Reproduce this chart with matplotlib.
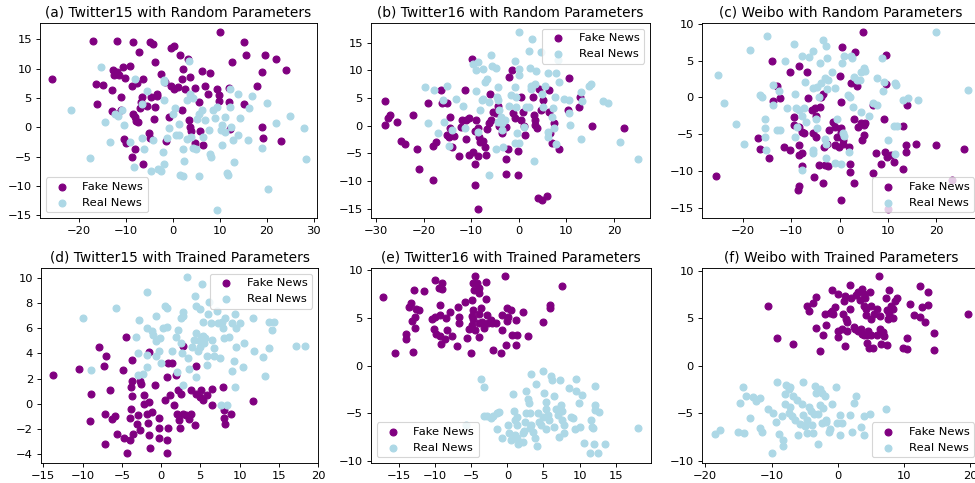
import matplotlib
matplotlib.use("Agg")
import matplotlib.pyplot as plt
import numpy as np

# t-SNE style 2-D embeddings as (x, y) pairs

# (a) Twitter15, random parameters
tw15_rand_fake = np.array([
    [-25.7, 8.3], [-17.1, 14.8], [-11.8, 14.8], [-8.5, 14.6], [-4.9, 14.6], [-4.2, 14.2],
    [-0.4, 13.6], [0.3, 13.9], [1.6, 12.4], [3.2, 11.7], [-7.3, 12.8], [10.0, 16.2],
    [15.1, 14.5], [15.6, 12.4], [12.6, 11.1], [19.6, 12.4], [21.9, 11.7], [24.2, 9.7],
    [18.9, 9.5], [17.9, 7.0], [-12.8, 9.8], [-12.0, 9.5], [-11.5, 9.0], [-12.5, 8.9],
    [-9.1, 10.5], [-10.7, 10.3], [-3.9, 11.1], [-16.4, 7.3], [-14.9, 7.2], [-16.2, 3.9],
    [-10.3, 8.4], [-13.0, 6.3], [-11.0, 5.2], [-8.8, 7.0], [-7.7, 7.6], [-6.3, 8.3],
    [-6.6, 5.2], [-6.7, 4.3], [-6.9, 3.3], [-5.5, 3.6], [-3.9, 3.4], [-4.6, 5.2],
    [-3.4, 5.6], [-3.4, 5.3], [-2.6, 9.1], [-1.7, 7.7], [-0.4, 7.1], [0.3, 6.6],
    [1.0, 6.8], [2.1, 9.9], [1.9, 8.2], [3.7, 8.5], [2.6, 6.6], [4.7, 6.7],
    [6.3, 9.6], [7.9, 9.2], [6.9, 7.0], [7.5, 5.6], [9.5, 6.6], [9.8, 5.5],
    [9.8, 4.4], [11.9, 6.7], [12.0, 4.3], [15.1, 4.0], [5.6, 4.3], [2.0, 3.0],
    [-11.0, 2.9], [-13.0, 2.7], [-12.0, 2.2], [-8.5, 2.2], [-8.0, 1.7], [-7.8, 1.1],
    [-7.4, 0.9], [-4.1, 1.4], [-0.8, 1.7], [3.5, 1.2], [3.7, 0.0], [3.9, -0.7],
    [5.8, -0.7], [-10.4, -2.0], [-9.9, -2.7], [-8.1, -3.7], [-8.8, -5.0], [-6.4, -6.2],
    [-5.1, -0.9], [-4.9, -1.8], [-1.5, -2.3], [4.8, -2.7], [6.4, -3.1], [19.0, 0.1],
    [19.2, -1.8], [23.0, -2.4], [12.1, -0.3],
])
tw15_rand_real = np.array([
    [-21.7, 3.0], [-15.4, 10.3], [-17.7, -5.2], [-14.4, 0.9], [-13.4, -2.5], [-12.3, 2.3],
    [-11.7, 1.9], [-10.8, 3.0], [-10.4, 0.3], [-9.2, -2.5], [-8.1, 8.3], [-8.3, -6.8],
    [-6.6, -1.8], [-6.5, 3.9], [-6.2, -3.7], [-5.6, 6.2], [-4.6, -7.4], [-4.3, -2.1],
    [-3.1, -7.2], [-2.5, -7.5], [-2.1, -4.2], [-1.8, -6.2], [-1.9, 8.0], [-1.8, 7.7],
    [-1.9, 4.7], [-0.9, -0.2], [-1.3, -1.9], [0.1, 2.3], [0.4, 3.2], [0.6, -1.4],
    [1.4, -1.3], [1.4, 0.5], [1.6, -8.1], [2.1, -8.4], [2.4, -5.8], [2.2, -3.8],
    [3.1, -2.0], [3.1, 4.7], [3.7, 5.6], [4.2, 5.0], [3.5, 11.3], [3.9, -1.7],
    [4.3, -3.5], [5.0, -3.7], [5.2, 1.4], [5.5, -8.4], [5.6, 2.3], [6.2, 2.9],
    [6.5, -1.7], [6.8, 1.2], [7.7, -0.4], [8.0, -4.5], [8.1, -5.1], [8.5, 3.0],
    [9.0, 1.5], [9.4, 3.4], [9.3, -14.1], [10.2, -0.5], [10.5, 0.4], [10.5, -3.0],
    [11.0, 1.7], [11.2, -0.8], [11.5, -7.9], [11.7, -8.1], [12.1, 6.6], [12.2, 3.5],
    [12.3, 0.1], [12.8, -2.2], [13.0, -6.0], [13.8, 5.6], [13.9, -1.3], [14.4, 1.6],
    [15.9, -2.2], [16.3, 3.2], [16.8, 5.4], [19.0, -3.5], [20.0, 4.2], [21.9, 0.8],
    [20.3, -10.5], [24.9, 1.9], [28.0, -0.2], [28.4, -5.4],
])

# (b) Twitter16, random parameters
tw16_rand_fake = np.array([
    [-28.2, 4.4], [-28.2, 0.1], [-27.5, 1.3], [-27.1, 1.9], [-25.6, 0.7], [-24.7, -2.7],
    [-24.0, -3.3], [-22.3, 1.9], [-21.4, -4.3], [-20.9, -7.8], [-19.1, 4.0], [-18.1, -3.7],
    [-18.0, -9.8], [-17.4, -3.0], [-16.3, 6.5], [-16.1, 4.0], [-15.1, 4.1], [-14.5, 1.6],
    [-14.5, -0.5], [-14.0, -3.9], [-15.2, -1.7], [-14.6, -2.0], [-13.6, -1.9], [-12.6, -5.5],
    [-12.1, -0.2], [-11.4, 6.5], [-11.2, -2.5], [-11.9, 1.1], [-11.1, 1.1], [-10.4, 1.4],
    [-9.8, 12.1], [-10.5, -5.4], [-9.7, -4.8], [-9.2, -7.0], [-9.3, -10.8], [-8.6, -15.1],
    [-9.1, 1.0], [-8.6, -0.5], [-9.3, -1.0], [-8.3, -2.0], [-8.1, -3.0], [-8.6, -5.5],
    [-7.6, -2.7], [-7.2, -3.9], [-6.9, -5.4], [-6.7, -0.7], [-6.2, 0.4], [-6.0, 5.8],
    [-5.8, 1.0], [-5.5, 2.5], [-4.8, 2.2], [-4.4, 3.6], [-4.1, -0.1], [-3.6, -1.3],
    [-2.7, -0.2], [-2.2, -4.3], [-2.7, -6.0], [-2.7, -8.8], [-2.0, 8.7], [-1.4, 10.0],
    [-1.3, 2.2], [-0.9, 1.4], [-0.2, -4.6], [-0.2, -9.0], [0.5, 5.2], [0.4, 1.1],
    [0.8, 2.5], [1.3, -1.7], [1.0, -0.1], [2.9, 5.2], [3.1, 1.9], [3.3, 1.0],
    [3.5, 0.2], [3.9, -0.5], [4.0, -13.1], [4.8, -13.5], [6.0, -12.7], [4.2, 6.7],
    [6.3, 6.5], [5.1, 4.6], [4.7, 2.8], [6.3, 2.5], [6.5, -1.3], [7.0, -3.1],
    [7.5, 0.4], [8.4, -4.3], [10.5, 8.6], [10.3, 2.9], [12.6, 3.4], [12.8, 5.2],
    [15.4, -0.1], [22.1, -0.4],
])
tw16_rand_real = np.array([
    [-19.7, 6.9], [-17.9, 6.5], [-19.1, 0.5], [-17.1, -1.3], [-15.9, 4.7], [-15.2, 7.2],
    [-15.7, 0.7], [-14.6, -3.7], [-14.0, -0.8], [-13.2, 4.8], [-11.8, 3.5], [-11.4, -0.5],
    [-9.7, 11.1], [-9.1, 10.1], [-8.6, 11.5], [-9.0, 6.3], [-7.6, 10.3], [-7.7, 4.6],
    [-7.2, 7.9], [-6.7, 8.5], [-6.2, 4.3], [-5.8, 12.7], [-5.6, 10.7], [-4.9, 10.4],
    [-6.3, -9.0], [-8.6, -1.1], [-8.1, 2.8], [-7.6, 4.8], [-4.9, -4.2], [-4.3, 7.0],
    [-4.6, 5.2], [-4.3, 4.6], [-4.1, 2.8], [-3.7, 1.6], [-4.4, 0.7], [-3.5, 0.5],
    [-3.0, 1.0], [-3.5, -0.8], [-3.4, -3.9], [-2.0, 3.5], [-1.6, 5.6], [-0.9, 7.0],
    [-0.7, 11.6], [0.0, 10.3], [0.1, 9.1], [-0.6, 5.2], [-0.6, 3.4], [-0.4, -1.4],
    [0.0, -3.1], [-0.8, -3.1], [1.0, -0.2], [1.5, 3.4], [2.2, 3.4], [0.0, 16.9],
    [2.1, 13.4], [2.4, 10.5], [2.7, 15.7], [3.7, 9.8], [2.6, 7.2], [2.6, 6.7],
    [3.5, 7.6], [4.7, 13.3], [5.5, 7.1], [4.9, 5.8], [5.1, 3.4], [3.2, -6.4],
    [6.2, 9.5], [7.9, 9.5], [8.4, 7.9], [7.6, 5.2], [7.2, 3.1], [7.0, 1.6],
    [7.4, -0.4], [6.1, -1.1], [6.1, -2.0], [7.9, -3.3], [8.2, 11.8], [9.6, 4.9],
    [10.5, 4.7], [10.5, 2.3], [10.7, 0.1], [13.0, 6.1], [13.3, 4.5], [13.1, -2.5],
    [14.7, 7.1], [15.1, 7.6], [17.7, 4.4], [18.8, 4.0], [21.2, -3.0], [25.1, -6.1],
])

# (c) Weibo, random parameters
weibo_rand_fake = np.array([
    [-25.7, -10.7], [-14.1, 5.0], [-13.0, 1.5], [-13.8, -0.5], [-12.3, -0.1], [-17.0, -5.5],
    [-16.4, -7.0], [-14.7, -8.3], [-11.6, -6.7], [-10.3, -7.2], [-10.2, 3.5], [-8.5, 4.2],
    [-6.8, 3.5], [-9.4, -2.7], [-9.5, -3.8], [-8.5, -4.0], [-7.8, -4.7], [-7.4, -4.8],
    [-8.5, -6.5], [-8.5, -7.9], [-7.8, -7.6], [-7.8, -9.4], [-8.3, -12.0], [-8.6, -12.6],
    [-6.6, -0.1], [-5.7, -1.7], [-5.0, -1.5], [-4.8, -2.6], [-5.4, -4.9], [-4.9, -5.4],
    [-5.2, -10.8], [-4.0, -1.3], [-3.9, 0.1], [-3.4, 0.5], [-4.3, -9.2], [-3.5, -11.6],
    [-3.0, -9.2], [-2.3, -9.3], [-2.6, -6.3], [-3.3, -6.7], [-2.1, -4.5], [-1.4, -3.3],
    [-0.9, -4.0], [-0.9, -6.5], [-0.2, -6.7], [-0.6, -5.4], [0.0, 2.9], [0.5, 6.8],
    [0.3, -0.6], [0.3, -4.2], [0.3, -4.7], [0.8, -5.8], [0.8, -6.3], [0.3, -13.9],
    [1.9, -6.7], [2.2, -9.0], [2.2, -10.1], [3.0, -11.7], [2.4, 2.0], [3.2, 6.1],
    [3.6, 1.5], [2.9, -2.9], [3.9, -4.0], [4.5, -3.5], [4.6, -5.8], [5.0, -5.1],
    [5.0, -3.8], [5.3, -3.5], [4.8, 8.9], [6.9, -10.3], [6.9, -1.0], [7.5, -7.6],
    [8.6, -9.0], [9.2, -2.9], [9.4, -7.4], [9.9, -8.1], [10.6, -7.9], [9.7, 5.8],
    [9.7, 1.8], [11.3, -8.8], [13.2, -3.9], [13.2, -9.8], [13.8, -6.5], [13.8, -7.4],
    [13.9, -1.0], [15.9, -6.3], [19.9, -6.5], [25.7, -7.0], [23.4, -11.3], [10.1, -15.2],
])
weibo_rand_real = np.array([
    [-25.2, 3.0], [-23.9, -0.8], [-21.4, -3.6], [-19.7, -6.4], [-18.5, 6.4], [-15.0, 8.4],
    [-16.4, 0.3], [-16.1, 0.0], [-15.4, -2.9], [-15.4, -4.2], [-15.4, -5.4], [-15.2, -7.1],
    [-13.7, 1.7], [-12.6, 0.8], [-13.8, -1.0], [-13.0, -4.5], [-12.3, -4.5], [-11.2, 5.0],
    [-10.9, -1.4], [-9.5, 7.2], [-9.2, 0.5], [-9.0, -1.5], [-8.5, -1.7], [-9.2, -5.4],
    [-8.8, -4.0], [-7.8, 5.6], [-7.1, 2.1], [-7.3, -1.5], [-7.8, -2.6], [-7.0, -3.3],
    [-7.8, -9.9], [-6.4, 5.5], [-5.6, 6.3], [-5.4, 1.2], [-4.7, 1.4], [-4.8, -2.9],
    [-4.7, -4.2], [-5.5, -7.2], [-5.4, -7.5], [-4.1, 4.7], [-4.3, 0.1], [-3.9, 2.0],
    [-3.4, 7.8], [-2.8, 7.0], [-2.6, 5.3], [-3.0, 2.6], [-2.6, 1.1], [-2.3, 2.3],
    [-3.0, -5.7], [-2.8, -6.3], [-2.8, -8.3], [-1.6, 3.4], [-0.9, 1.2], [-0.6, -2.9],
    [-0.9, -8.9], [0.5, 4.6], [1.0, 5.6], [0.8, -4.9], [0.9, -5.2], [0.3, -9.0],
    [1.9, -7.4], [1.7, 0.3], [2.2, 0.1], [2.3, 5.6], [2.6, 5.3], [2.7, -1.3],
    [2.9, 2.7], [3.6, 2.4], [4.3, 2.4], [4.4, 3.4], [5.0, 4.0], [5.2, 3.6],
    [4.5, -2.0], [6.0, -2.5], [7.0, -0.8], [7.7, -1.0], [7.7, 2.6], [8.8, 5.3],
    [9.1, 0.9], [9.3, 2.1], [10.1, -5.8], [11.2, -3.9], [11.4, 2.0], [11.7, 1.7],
    [11.5, -7.7], [12.0, -3.9], [13.2, -0.3], [14.1, -0.1], [16.3, -0.4], [20.0, 8.9],
    [26.7, 1.0],
])

# (d) Twitter15, trained parameters
tw15_train_fake = np.array([
    [-13.8, 2.3], [-10.5, 2.8], [-8.9, 0.8], [-9.1, -1.4], [-7.9, 4.5], [-7.0, 3.8],
    [-7.3, 3.0], [-6.5, 1.1], [-7.1, -0.8], [-7.1, -3.2], [-6.2, -1.2], [-5.9, -1.0],
    [-5.6, -2.4], [-4.5, 5.3], [-4.8, 2.7], [-4.7, -2.7], [-4.4, -3.9], [-4.0, -2.9],
    [-3.7, 3.5], [-3.7, 1.8], [-3.8, 1.3], [-3.7, 0.6], [-3.8, -0.4], [-3.9, -1.1],
    [-3.6, -2.4], [-2.7, 1.8], [-2.5, 1.6], [-3.0, -0.9], [-3.1, -1.6], [-2.7, -2.1],
    [-2.2, 0.7], [-2.2, 0.0], [-1.8, -0.8], [-1.6, 0.1], [-1.7, -1.5], [-1.6, -2.5],
    [-1.4, -3.5], [-1.6, 4.1], [-0.8, 1.5], [-1.2, -0.7], [-0.3, -1.1], [-0.2, -1.9],
    [-0.3, -2.7], [0.5, 0.3], [0.7, 2.1], [0.9, 3.2], [0.7, -2.9], [0.7, -3.9],
    [0.9, -1.9], [1.1, 0.7], [1.4, 3.2], [1.7, -0.1], [1.9, 2.3], [2.0, -0.8],
    [2.2, 1.1], [2.3, -1.3], [2.4, -1.9], [2.8, 4.6], [2.6, 0.8], [2.8, -0.8],
    [3.2, -0.9], [3.5, -1.2], [3.8, -0.8], [4.3, -1.7], [3.8, 1.1], [4.5, 3.0],
    [4.5, 0.8], [4.9, 0.5], [5.1, 1.1], [5.3, 0.3], [5.8, 0.7], [6.5, 1.2],
    [6.5, -0.1], [7.9, 1.3], [8.0, -1.1], [8.1, -1.6], [8.9, -0.8], [11.7, 0.2],
    [8.0, -0.5],
])
tw15_train_real = np.array([
    [-9.9, 6.8], [-8.9, 2.7], [-5.7, 7.6], [-3.2, 5.3], [-3.0, 4.0], [-3.0, 2.3],
    [-2.8, 6.7], [-2.3, 2.4], [-1.8, 8.9], [-1.8, 6.0], [-1.8, 3.9], [-1.8, 2.9],
    [-1.1, 5.8], [-1.0, 5.5], [-0.6, 7.0], [-0.6, 5.0], [-0.6, 3.8], [-0.2, 4.2],
    [-0.1, 5.2], [0.0, 3.2], [0.3, 6.0], [0.5, 7.8], [0.7, 7.6], [0.7, 6.1],
    [1.4, 4.2], [1.9, 5.3], [2.2, 5.9], [2.5, 6.8], [2.8, 7.0], [2.8, 7.3],
    [2.5, 4.8], [2.7, 4.0], [2.0, 2.5], [2.8, 1.5], [3.3, 10.1], [3.4, 3.6],
    [3.6, 2.8], [4.3, 8.6], [4.4, 7.8], [4.9, 7.5], [3.9, 4.5], [4.2, 5.1],
    [4.5, 5.6], [4.5, 2.1], [4.7, 4.2], [5.0, 5.0], [5.1, 5.3], [5.3, 5.4],
    [5.0, 4.5], [5.2, 9.5], [5.3, 6.5], [5.5, 4.8], [5.6, 5.2], [5.8, 3.1],
    [5.9, 3.8], [6.0, 7.1], [6.1, 8.1], [6.4, 6.4], [6.5, 5.1], [6.7, 4.4],
    [6.8, 3.8], [7.1, 7.4], [7.3, 6.4], [7.5, 3.6], [7.6, -0.1], [7.8, 6.5],
    [7.9, 6.0], [8.0, 5.2], [8.1, 6.8], [8.4, -0.1], [8.6, 5.3], [9.0, 6.4],
    [9.1, 2.6], [9.3, 3.4], [9.4, 7.1], [9.5, 4.5], [9.4, 1.3], [9.6, 6.0],
    [10.0, 6.4], [10.4, 2.9], [10.6, 4.8], [11.7, 6.8], [11.8, 4.2], [13.0, 3.7],
    [13.3, 2.2], [13.8, 6.5], [14.1, 5.9], [14.4, 6.5], [13.7, 4.4], [17.2, 4.6],
    [18.4, 4.6],
])

# (e) Twitter16, trained parameters
tw16_train_fake = np.array([
    [-17.2, 7.2], [-15.6, 1.3], [-14.0, 3.3], [-14.0, 2.8], [-13.6, 6.2], [-13.3, 6.6],
    [-13.1, 1.4], [-13.0, 7.9], [-13.2, 4.7], [-12.8, 5.1], [-12.8, 4.0], [-12.6, 6.0],
    [-12.2, 5.8], [-11.5, 7.8], [-10.5, 4.9], [-10.2, 3.9], [-10.0, 9.0], [-10.0, 5.1],
    [-9.9, 3.3], [-9.5, 8.2], [-9.3, 5.3], [-9.3, 6.4], [-9.1, 8.7], [-9.1, 8.1],
    [-9.3, 3.1], [-9.2, 2.3], [-8.7, 2.8], [-8.5, 5.0], [-8.4, 3.8], [-8.0, 5.6],
    [-7.7, 3.1], [-7.0, 2.1], [-6.9, 6.2], [-6.7, 5.1], [-6.7, 4.5], [-5.9, 6.7],
    [-5.6, 2.9], [-5.3, 3.9], [-5.0, 1.3], [-4.9, 6.9], [-4.7, 8.7], [-4.5, 9.4],
    [-4.6, 7.9], [-4.7, 5.8], [-4.7, 4.9], [-4.9, 4.3], [-4.5, 3.7], [-4.9, 5.2],
    [-4.2, 8.7], [-4.0, 7.6], [-3.9, 8.2], [-3.7, 6.1], [-3.9, 5.4], [-4.0, 4.5],
    [-3.9, 3.0], [-3.5, 4.6], [-3.3, 4.0], [-3.0, 7.0], [-2.9, 8.8], [-2.8, 5.3],
    [-2.7, 4.5], [-2.3, 4.8], [-2.1, 4.5], [-2.0, 1.7], [-1.6, 4.5], [-0.9, 1.3],
    [-0.7, 3.7], [-0.7, 5.3], [-0.4, 9.4], [-0.2, 2.2], [0.0, 6.1], [0.0, 4.7],
    [0.1, 5.1], [0.5, 5.8], [0.7, 3.2], [1.3, 3.2], [1.2, 4.8], [1.2, 2.2],
    [2.1, 5.6], [2.8, 3.1], [4.9, 4.6], [5.9, 6.1], [5.9, 6.4], [7.5, 8.4],
])
tw16_train_real = np.array([
    [-3.6, -1.4], [-3.3, -2.2], [-3.3, -5.3], [-2.8, -5.3], [-2.3, -5.5], [-2.0, -5.3],
    [-1.4, -5.0], [-1.2, -4.9], [-1.5, -6.6], [-0.7, -7.6], [0.1, -6.2], [0.2, -7.1],
    [0.5, -7.8], [0.8, -3.0], [0.9, -4.7], [1.1, -5.7], [1.4, -5.4], [1.4, -6.2],
    [1.1, -7.3], [1.4, -7.6], [1.5, -8.2], [2.1, -8.0], [2.1, -7.1], [2.3, -6.8],
    [2.6, -2.6], [2.6, -5.0], [2.5, -5.9], [2.9, -3.5], [3.0, -3.9], [3.1, -5.0],
    [3.3, -6.2], [3.1, -6.5], [3.3, -0.9], [3.6, -6.9], [3.8, -7.6], [4.1, -8.4],
    [4.0, -1.9], [4.3, -5.0], [4.4, -5.9], [4.7, -6.2], [4.9, -5.4], [5.0, -0.6],
    [5.1, -2.9], [5.3, -3.8], [5.3, -4.5], [5.6, -5.2], [5.3, -6.6], [5.8, -5.7],
    [6.0, -1.1], [6.2, -1.5], [6.5, -3.2], [6.4, -6.4], [6.7, -4.5], [7.0, -5.2],
    [7.2, -7.5], [7.3, -1.5], [7.4, -4.1], [7.5, -4.7], [7.6, -5.7], [7.8, -7.1],
    [7.9, -6.2], [8.5, -2.3], [8.8, -5.4], [9.1, -5.5], [9.3, -6.6], [9.5, -1.4],
    [9.5, -2.6], [9.9, -3.9], [10.0, -6.4], [10.4, -3.1], [10.6, -8.1], [11.4, -9.2],
    [11.6, -5.7], [11.7, -6.4], [11.9, -6.5], [12.2, -2.1], [12.2, -4.1], [12.2, -4.6],
    [12.0, -8.2], [12.6, -9.2], [12.7, -4.8], [13.5, -8.2], [18.1, -6.5], [-5.8, -6.2],
])

# (f) Weibo, trained parameters
weibo_train_fake = np.array([
    [-10.6, 6.3], [-9.2, 2.9], [-6.8, 2.3], [-4.6, 6.3], [-4.3, 5.8], [-3.3, 7.2],
    [-3.7, 6.6], [-3.3, 4.0], [-2.6, 1.6], [-2.2, 3.2], [-1.7, 4.3], [-1.9, 5.4],
    [-0.9, 8.0], [-1.2, 5.6], [-0.8, 5.8], [-0.4, 6.2], [-0.7, 5.4], [0.0, 7.6],
    [0.0, 3.7], [0.1, 3.0], [0.6, 3.9], [0.9, 6.8], [0.8, 5.5], [1.1, 7.3],
    [1.3, 4.9], [1.4, 4.6], [1.1, 2.1], [1.4, 3.7], [1.8, 6.0], [1.9, 8.5],
    [2.0, 7.1], [2.4, 4.1], [2.6, 3.9], [2.8, 7.5], [3.1, 7.8], [3.1, 3.7],
    [3.4, 6.9], [3.5, 3.9], [3.6, 8.1], [3.6, 3.3], [3.9, 6.3], [3.9, 3.2],
    [4.0, 7.6], [4.1, 7.1], [4.3, 6.0], [4.3, 5.3], [4.5, 3.2], [4.4, 2.4],
    [4.6, 3.7], [4.8, 1.9], [4.9, 7.8], [5.0, 6.3], [5.0, 4.9], [5.1, 3.2],
    [5.5, 5.4], [5.4, 1.9], [6.0, 6.0], [6.0, 3.2], [6.3, 9.5], [6.4, 3.9],
    [6.4, 5.2], [6.6, 2.3], [6.9, 3.6], [7.0, 3.1], [7.3, 7.1], [7.4, 5.9],
    [7.5, 2.2], [7.6, 4.9], [7.8, 8.0], [7.8, 5.4], [8.1, 6.3], [8.4, 6.0],
    [8.6, 6.8], [8.9, 7.1], [8.4, 5.0], [9.9, 1.9], [10.4, 1.8], [10.4, 2.9],
    [10.9, 6.5], [11.6, 5.3], [12.5, 8.4], [12.4, 5.1], [12.8, 6.2], [13.2, 4.6],
    [13.6, 7.8], [13.7, 6.4], [14.5, 3.4], [14.6, 1.7], [19.7, 5.5],
])
weibo_train_real = np.array([
    [-18.6, -7.2], [-17.8, -6.8], [-15.1, -7.0], [-14.1, -7.1], [-14.8, -3.9], [-14.3, -2.2],
    [-13.9, -3.2], [-13.2, -5.5], [-12.8, -3.3], [-12.3, -3.7], [-11.8, -3.4], [-11.7, -6.6],
    [-11.5, -7.0], [-10.5, -4.6], [-9.9, -9.2], [-9.7, -5.0], [-9.3, -5.9], [-9.2, -1.7],
    [-8.9, -7.2], [-8.4, -5.3], [-8.3, -7.8], [-8.2, -8.5], [-8.0, -4.0], [-7.9, -3.0],
    [-7.8, -2.0], [-7.4, -2.5], [-7.4, -5.0], [-7.2, -2.2], [-7.2, -4.3], [-6.9, -5.3],
    [-6.7, -3.2], [-6.4, -5.7], [-6.2, -3.6], [-6.0, -7.3], [-5.7, -6.1], [-5.4, -4.0],
    [-5.2, -1.7], [-5.2, -5.2], [-4.9, -6.4], [-4.7, -7.1], [-4.6, -5.7], [-4.3, -4.3],
    [-4.0, -4.8], [-3.9, -6.2], [-3.7, -7.1], [-3.6, -5.1], [-3.4, -2.1], [-3.3, -2.9],
    [-3.0, -5.1], [-2.9, -8.2], [-2.7, -2.4], [-2.6, -4.1], [-2.4, -6.0], [-2.3, -2.9],
    [-2.2, -4.5], [-1.9, -3.2], [-1.8, -5.9], [-1.7, -5.7], [-1.3, -7.0], [-1.2, -6.7],
    [-0.9, -4.0], [-0.2, -2.2], [-0.1, -6.0], [0.3, -5.2], [0.4, -7.3], [0.6, -6.0],
    [1.8, -5.2], [2.1, -7.0], [2.5, -3.9], [2.8, -3.2], [3.5, -6.5], [3.9, -5.3],
    [4.0, -7.3], [4.9, -5.1], [7.3, -4.6],
])

titles = [
    "(a) Twitter15 with Random Parameters",
    "(b) Twitter16 with Random Parameters",
    "(c) Weibo with Random Parameters",
    "(d) Twitter15 with Trained Parameters",
    "(e) Twitter16 with Trained Parameters",
    "(f) Weibo with Trained Parameters",
]
panels = [
    (tw15_rand_fake, tw15_rand_real),
    (tw16_rand_fake, tw16_rand_real),
    (weibo_rand_fake, weibo_rand_real),
    (tw15_train_fake, tw15_train_real),
    (tw16_train_fake, tw16_train_real),
    (weibo_train_fake, weibo_train_real),
]
legend_locs = ["lower left", "upper right", "lower right",
               "upper right", "lower left", "lower right"]
x_limits = [(-28.3, 30.7), (-31.1, 27.6), (-28.5, 29.1),
            (-15.3, 20.0), (-18.9, 19.9), (-20.5, 21.5)]
y_limits = [(-15.5, 17.8), (-16.7, 18.55), (-16.4, 10.1),
            (-4.72, 10.8), (-10.2, 10.25), (-10.25, 10.3)]

# pixel boxes (left, top, width, height) -- right column runs past the edge
W, H = 975, 483
DPI = 82.5
boxes = [
    (40, 23, 277, 195), (371, 23, 279, 195), (702, 23, 278, 195),
    (41, 268, 277, 195), (371, 268, 280, 195), (702, 268, 278, 195),
]

fig = plt.figure(figsize=(W / DPI, H / DPI), dpi=DPI)

for i in range(6):
    left, top, w, h = boxes[i]
    ax = fig.add_axes([left / W, (H - top - h) / H, w / W, h / H])
    fake, real = panels[i]
    ax.scatter(fake[:, 0], fake[:, 1], c='purple', label='Fake News')
    ax.scatter(real[:, 0], real[:, 1], c='lightblue', label='Real News')
    ax.set_xlim(*x_limits[i])
    ax.set_ylim(*y_limits[i])
    ax.set_title(titles[i])
    ax.legend(loc=legend_locs[i])

fig.savefig('out.png', dpi=DPI)
